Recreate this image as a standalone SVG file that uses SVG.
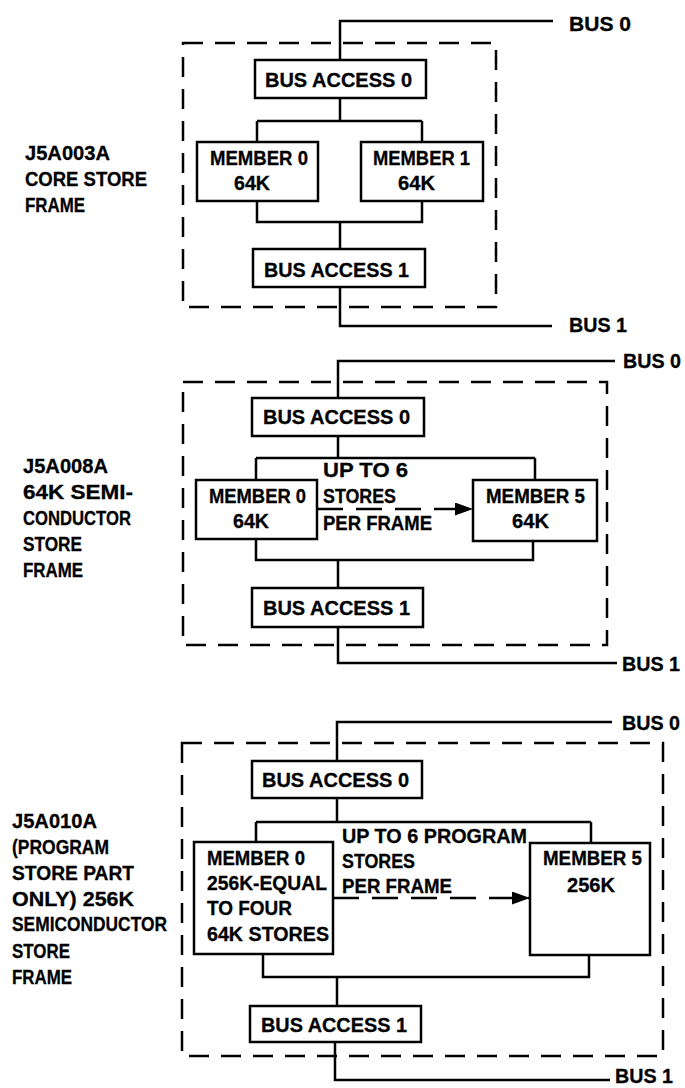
<svg xmlns="http://www.w3.org/2000/svg" width="685" height="1088" viewBox="0 0 685 1088">
  <defs>
    <style>
      text { font-family: "Liberation Sans", Arial, sans-serif; font-weight: bold; font-size: 20px; fill: #000; stroke: #000; stroke-width: 0.3; }
      .box { fill: #fff; stroke: #000; stroke-width: 2.5; }
      .frame { fill: none; stroke: #000; stroke-width: 2.5; stroke-dasharray: 20 12; }
      .wire { fill: none; stroke: #000; stroke-width: 2.5; }
      .dash { fill: none; stroke: #000; stroke-width: 2.5; stroke-dasharray: 26 13; }
    </style>
    <marker id="arrow" viewBox="0 0 18 13" refX="18" refY="6.5" markerWidth="18" markerHeight="13" markerUnits="userSpaceOnUse" orient="auto">
      <path d="M0,0 L18,6.5 L0,13 z" fill="#000"/>
    </marker>
  </defs>
  <rect width="685" height="1088" fill="#fff"/>

  <!-- frame outlines -->
  <g id="frames">
    <rect class="frame" x="183" y="43" width="313" height="264"/>
    <rect class="frame" x="183" y="382" width="424" height="263"/>
    <rect class="frame" x="182" y="743" width="481" height="313"/>
  </g>

  <!-- buses and internal wiring -->
  <g id="connectors">
    <!-- J5A003A -->
    <path class="wire" d="M553,21 H340 V60"/>
    <path class="wire" d="M340,98 V121 M257,121 H422 M257,121 V142 M422,121 V142"/>
    <path class="wire" d="M257,201 V222 H422 V201 M340,222 V249"/>
    <path class="wire" d="M340,287 V326 H552"/>
    <!-- J5A008A -->
    <path class="wire" d="M615,361 H338 V398"/>
    <path class="wire" d="M338,436 V458 M256,458 H535 M256,458 V480 M535,458 V480"/>
    <path class="wire" d="M256,539 V560 H533 V541 M338,560 V588"/>
    <path class="wire" d="M338,627 V663 H617"/>
    <path class="dash" d="M317,509 H473" marker-end="url(#arrow)"/>
    <!-- J5A010A -->
    <path class="wire" d="M612,722 H337 V761"/>
    <path class="wire" d="M337,798 V822 M256,822 H591 M256,822 V842 M591,822 V843"/>
    <path class="wire" d="M263,954 V977 H589 V955 M337,977 V1006"/>
    <path class="wire" d="M335,1042 V1080 H610"/>
    <path class="dash" d="M333,898 H530" marker-end="url(#arrow)"/>
  </g>

  <!-- frame titles -->
  <g id="label-j5a003a">
    <text x="25" y="160" textLength="85" lengthAdjust="spacingAndGlyphs">J5A003A</text>
    <text x="25" y="186" textLength="122" lengthAdjust="spacingAndGlyphs">CORE STORE</text>
    <text x="25" y="212" textLength="60" lengthAdjust="spacingAndGlyphs">FRAME</text>
  </g>
  <g id="label-j5a008a">
    <text x="23" y="473" textLength="85" lengthAdjust="spacingAndGlyphs">J5A008A</text>
    <text x="23" y="499" textLength="110" lengthAdjust="spacingAndGlyphs">64K SEMI-</text>
    <text x="23" y="525" textLength="108" lengthAdjust="spacingAndGlyphs">CONDUCTOR</text>
    <text x="23" y="551" textLength="59" lengthAdjust="spacingAndGlyphs">STORE</text>
    <text x="23" y="577" textLength="60" lengthAdjust="spacingAndGlyphs">FRAME</text>
  </g>
  <g id="label-j5a010a">
    <text x="12" y="828" textLength="85" lengthAdjust="spacingAndGlyphs">J5A010A</text>
    <text x="12" y="854" textLength="97" lengthAdjust="spacingAndGlyphs">(PROGRAM</text>
    <text x="12" y="880" textLength="122" lengthAdjust="spacingAndGlyphs">STORE PART</text>
    <text x="12" y="906" textLength="122" lengthAdjust="spacingAndGlyphs">ONLY) 256K</text>
    <text x="12" y="931" textLength="155" lengthAdjust="spacingAndGlyphs">SEMICONDUCTOR</text>
    <text x="12" y="958" textLength="58" lengthAdjust="spacingAndGlyphs">STORE</text>
    <text x="12" y="984" textLength="60" lengthAdjust="spacingAndGlyphs">FRAME</text>
  </g>

  <!-- bus labels -->
  <g id="bus-labels">
    <text x="569" y="31" textLength="62" lengthAdjust="spacingAndGlyphs">BUS 0</text>
    <text x="569" y="332" textLength="58" lengthAdjust="spacingAndGlyphs">BUS 1</text>
    <text x="623" y="368" textLength="58" lengthAdjust="spacingAndGlyphs">BUS 0</text>
    <text x="622" y="671" textLength="58" lengthAdjust="spacingAndGlyphs">BUS 1</text>
    <text x="622" y="730" textLength="58" lengthAdjust="spacingAndGlyphs">BUS 0</text>
    <text x="615" y="1083" textLength="58" lengthAdjust="spacingAndGlyphs">BUS 1</text>
  </g>

  <!-- J5A003A core store frame -->
  <g id="core-bus-access-0">
    <rect class="box" x="255" y="60" width="171" height="38"/>
    <text x="265" y="87" textLength="147" lengthAdjust="spacingAndGlyphs">BUS ACCESS 0</text>
  </g>
  <g id="core-member-0">
    <rect class="box" x="197" y="142" width="121" height="59"/>
    <text x="210" y="165" textLength="98" lengthAdjust="spacingAndGlyphs">MEMBER 0</text>
    <text x="234" y="190" textLength="36" lengthAdjust="spacingAndGlyphs">64K</text>
  </g>
  <g id="core-member-1">
    <rect class="box" x="361" y="142" width="122" height="59"/>
    <text x="373" y="165" textLength="97" lengthAdjust="spacingAndGlyphs">MEMBER 1</text>
    <text x="398" y="190" textLength="37" lengthAdjust="spacingAndGlyphs">64K</text>
  </g>
  <g id="core-bus-access-1">
    <rect class="box" x="253" y="249" width="172" height="38"/>
    <text x="264" y="277" textLength="145" lengthAdjust="spacingAndGlyphs">BUS ACCESS 1</text>
  </g>

  <!-- J5A008A 64K semiconductor store frame -->
  <g id="semi-bus-access-0">
    <rect class="box" x="252" y="398" width="172" height="38"/>
    <text x="263" y="424" textLength="147" lengthAdjust="spacingAndGlyphs">BUS ACCESS 0</text>
  </g>
  <g id="semi-member-0">
    <rect class="box" x="196" y="480" width="121" height="59"/>
    <text x="209" y="503" textLength="97" lengthAdjust="spacingAndGlyphs">MEMBER 0</text>
    <text x="233" y="528" textLength="36" lengthAdjust="spacingAndGlyphs">64K</text>
  </g>
  <g id="semi-member-5">
    <rect class="box" x="473" y="480" width="124" height="61"/>
    <text x="486" y="503" textLength="99" lengthAdjust="spacingAndGlyphs">MEMBER 5</text>
    <text x="512" y="528" textLength="37" lengthAdjust="spacingAndGlyphs">64K</text>
  </g>
  <g id="semi-note">
    <text x="323" y="477" textLength="85" lengthAdjust="spacingAndGlyphs">UP TO 6</text>
    <text x="323" y="503" textLength="73" lengthAdjust="spacingAndGlyphs">STORES</text>
    <text x="323" y="530" textLength="109" lengthAdjust="spacingAndGlyphs">PER FRAME</text>
  </g>
  <g id="semi-bus-access-1">
    <rect class="box" x="252" y="588" width="171" height="39"/>
    <text x="263" y="615" textLength="147" lengthAdjust="spacingAndGlyphs">BUS ACCESS 1</text>
  </g>

  <!-- J5A010A program store frame -->
  <g id="prog-bus-access-0">
    <rect class="box" x="252" y="761" width="170" height="37"/>
    <text x="262" y="787" textLength="147" lengthAdjust="spacingAndGlyphs">BUS ACCESS 0</text>
  </g>
  <g id="prog-member-0">
    <rect class="box" x="194" y="842" width="139" height="112"/>
    <text x="207" y="865" textLength="98" lengthAdjust="spacingAndGlyphs">MEMBER 0</text>
    <text x="207" y="890" textLength="120" lengthAdjust="spacingAndGlyphs">256K-EQUAL</text>
    <text x="207" y="915" textLength="85" lengthAdjust="spacingAndGlyphs">TO FOUR</text>
    <text x="207" y="941" textLength="122" lengthAdjust="spacingAndGlyphs">64K STORES</text>
  </g>
  <g id="prog-member-5">
    <rect class="box" x="530" y="843" width="120" height="112"/>
    <text x="543" y="865" textLength="99" lengthAdjust="spacingAndGlyphs">MEMBER 5</text>
    <text x="567" y="892" textLength="48" lengthAdjust="spacingAndGlyphs">256K</text>
  </g>
  <g id="prog-note">
    <text x="342" y="843" textLength="185" lengthAdjust="spacingAndGlyphs">UP TO 6 PROGRAM</text>
    <text x="342" y="868" textLength="73" lengthAdjust="spacingAndGlyphs">STORES</text>
    <text x="342" y="893" textLength="110" lengthAdjust="spacingAndGlyphs">PER FRAME</text>
  </g>
  <g id="prog-bus-access-1">
    <rect class="box" x="250" y="1006" width="171" height="36"/>
    <text x="261" y="1032" textLength="146" lengthAdjust="spacingAndGlyphs">BUS ACCESS 1</text>
  </g>
</svg>
